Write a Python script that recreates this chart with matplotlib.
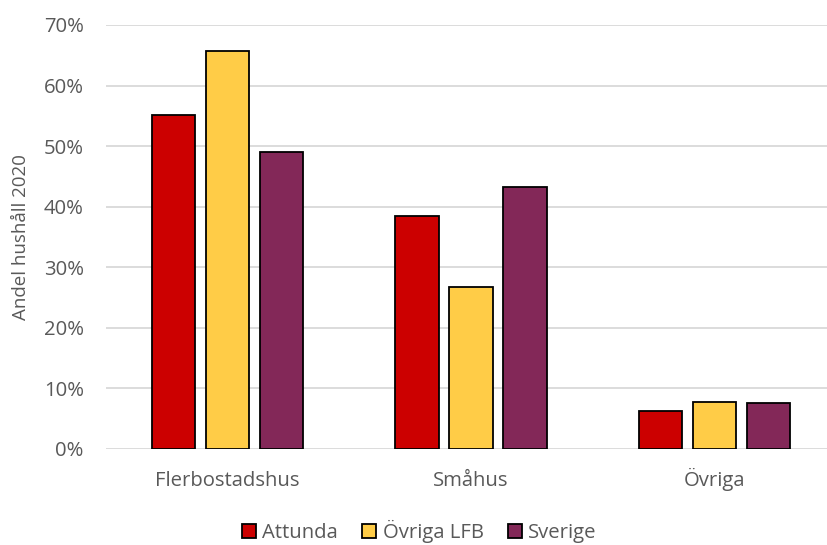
import matplotlib
matplotlib.use("Agg")
import matplotlib.pyplot as plt
import numpy as np
from matplotlib.patches import Patch
from matplotlib.ticker import PercentFormatter

plt.rcParams.update({"font.family": ["Open Sans", "DejaVu Sans"], "font.size": 14.6})

categories = ["Flerbostadshus", "Småhus", "Övriga"]
series = ["Attunda", "Övriga LFB", "Sverige"]
attunda = [0.552, 0.384, 0.063]
ovriga_lfb = [0.657, 0.267, 0.077]
sverige = [0.491, 0.433, 0.076]
colors = ["#CC0000", "#FFCC47", "#832858"]

GRID = "#d9d9d9"
TXT = "#595959"

fig = plt.figure(figsize=(8.27, 5.45), dpi=100)
ax = fig.add_axes([106 / 827, 96.3 / 545, (827 - 106) / 827, (448.7 - 25) / 545])

x = np.arange(len(categories))
step, width = 0.222, 0.177
for i, (vals, col) in enumerate(zip([attunda, ovriga_lfb, sverige], colors)):
    ax.bar(x + (i - 1) * step, vals, width, color=col, edgecolor="black", lw=1.3, zorder=3)

ax.set_ylim(0, 0.70)
ax.set_yticks(np.arange(0, 0.71, 0.1))
ax.yaxis.set_major_formatter(PercentFormatter(1.0, decimals=0))
ax.set_xlim(-0.5, 2.5 - 9 / 243.5)
ax.set_xticks(x, categories)
ax.grid(axis="y", color=GRID, lw=1.3, zorder=0)
for s in ["top", "right", "left", "bottom"]:
    ax.spines[s].set_visible(False)
ax.tick_params(length=0, colors=TXT, labelsize=14.6)
ax.tick_params(axis="y", pad=16)
ax.tick_params(axis="x", pad=27)
for lab in ax.get_xticklabels():
    lab.set_verticalalignment("baseline")
ax.set_ylabel("Andel hushåll 2020", color=TXT, fontsize=13.5, labelpad=10)

handles = [Patch(facecolor=c, edgecolor="black", lw=1.3, label=s) for s, c in zip(series, colors)]
fig.legend(handles=handles, loc="center", bbox_to_anchor=(0.507, 0.024), ncol=3, frameon=False,
           fontsize=14.6, labelcolor=TXT, handlelength=0.7, handleheight=0.7, handletextpad=0.3,
           columnspacing=1.2)

fig.savefig("out.png", dpi=100)
